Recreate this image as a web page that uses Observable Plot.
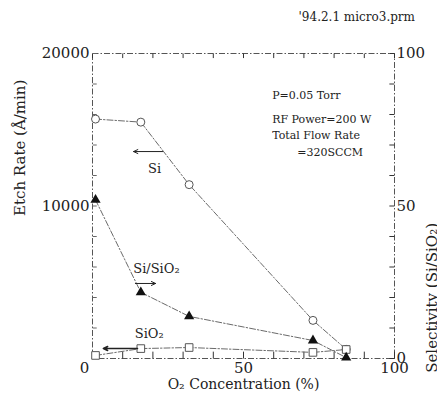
<!DOCTYPE html>
<html>
<head>
<meta charset="utf-8">
<script src="https://cdn.jsdelivr.net/npm/d3@7"></script>
<script src="https://cdn.jsdelivr.net/npm/@observablehq/plot@0.6"></script>
<style>
  html, body { margin: 0; padding: 0; background: #fff; }
  #title { height: 30px; line-height: 34px; font-family: "DejaVu Serif", serif; font-size: 12px; color: #222; text-align: right; padding-right: 22px; box-sizing: border-box; width: 437px; }
  #chart svg { display: block; }
</style>
</head>
<body>
<div id="title">'94.2.1 micro3.prm</div>
<div id="chart"></div>
<script>
// ---- data ----
const oxygen      = [1, 16, 32, 73, 84];               // O2 concentration (%)
const siRate      = [15700, 15500, 11400, 2500, 600];  // Si etch rate (Å/min)
const sio2Rate    = [200, 650, 720, 400, 590];         // SiO2 etch rate (Å/min)
const selectivity = [52, 21.7, 13.8, 5.9, 0.3];        // Si/SiO2

const xTicks   = [0, 10, 20, 30, 40, 50, 60, 70, 80, 90, 100];
const xLabels  = [50, 100];
const xLabelZero = [0];
const yTicks   = [0, 2000, 4000, 6000, 8000, 10000, 12000, 14000, 16000, 18000, 20000];
const yLabels  = [10000, 20000];
const selTicks = [0, 10, 20, 30, 40, 50, 60, 70, 80, 90, 100];
const selLabels = [0, 50, 100];

const conditions = ["P=0.05 Torr", "RF Power=200 W", "Total Flow Rate", "=320SCCM"];
const condX = [59.5, 59.5, 59.5, 67.8];
const condY = [17250, 15680, 14620, 13520];

const seriesNames = ["Si", "Si/SiO₂", "SiO₂"];
const seriesLabelX = [18.4, 13.5, 14.0];
const seriesLabelY = [12450, 5850, 1650];

const arrowX1 = [23.2, 14.2, 14.9];
const arrowX2 = [13.6, 20.9, 3.6];
const arrowY  = [13570, 4920, 660];

// ---- derived tables ----
const selFactor = 20000 / 100;  // right axis 0..100 maps onto left 0..20000
const rows = oxygen.map((o, i) => ({o, si: siRate[i], sio2: sio2Rate[i], sel: selectivity[i]}));
const conds = conditions.map((t, i) => ({t, x: condX[i], y: condY[i]}));
const slabels = seriesNames.map((t, i) => ({t, x: seriesLabelX[i], y: seriesLabelY[i]}));
const arrows = arrowX1.map((x1, i) => ({x1, x2: arrowX2[i], y: arrowY[i], w: i === 2 ? 1.6 : 1}));
// inner tick marks (length given in data units of the crossing scale)
const bottomTicks = xTicks.map(x => ({x, y1: 0, y2: 450}));
const topTicks = xTicks.map(x => ({x, y1: 20000, y2: 19700}));
const leftTicks = yTicks.map(y => ({y, x1: 0, x2: 1.4}));
const rightTicks = selTicks.map(s => ({y: s * selFactor, x1: 100, x2: 98.3}));

const ink = "#222";
const lineInk = "#6a6a6a";
const dashDot = "6,2,1.5,2";
const serif = "DejaVu Serif";

const chart = Plot.plot({
  width: 437,
  height: 369,
  marginTop: 23,
  marginBottom: 41,
  marginLeft: 92,
  marginRight: 43,
  style: {fontFamily: serif, fontSize: "15px", color: ink, background: "#fff"},
  x: {domain: [0, 100]},
  y: {domain: [0, 20000]},
  marks: [
    Plot.frame({stroke: "#555", strokeDasharray: dashDot, strokeWidth: 1}),
    // inner ticks
    Plot.link(bottomTicks, {x1: "x", x2: "x", y1: "y1", y2: "y2", stroke: "#333", strokeWidth: 1}),
    Plot.link(topTicks, {x1: "x", x2: "x", y1: "y1", y2: "y2", stroke: "#333", strokeWidth: 1}),
    Plot.link(leftTicks, {x1: "x1", x2: "x2", y1: "y", y2: "y", stroke: "#666", strokeWidth: 1}),
    Plot.link(rightTicks, {x1: "x1", x2: "x2", y1: "y", y2: "y", stroke: "#333", strokeWidth: 1}),
    // tick labels
    Plot.axisX(xLabels, {anchor: "bottom", tickSize: 0, tickPadding: 4, label: null, fontSize: 15, fontFamily: serif}),
    Plot.axisX(xLabelZero, {anchor: "bottom", tickSize: 0, tickPadding: 4, label: null, fontSize: 15, fontFamily: serif, dx: -8}),
    Plot.axisY(yLabels, {anchor: "left", tickSize: 0, tickPadding: 3, label: null, fontSize: 15, fontFamily: serif, tickFormat: d => String(d)}),
    Plot.axisY(selLabels.map(s => s * selFactor), {anchor: "right", tickSize: 0, tickPadding: 2, label: null, fontSize: 15, fontFamily: serif, tickFormat: d => String(d / selFactor)}),
    // axis titles
    Plot.text(["O₂ Concentration (%)"], {frameAnchor: "bottom", dy: 30, fontSize: 14, fontFamily: serif, fill: ink}),
    Plot.text(["Etch Rate (Å/min)"], {frameAnchor: "left", dx: -72, dy: 10, rotate: -90, fontSize: 15, fontFamily: serif, fill: ink}),
    Plot.text(["Selectivity (Si/SiO₂)"], {frameAnchor: "right", dx: 38, dy: 17, rotate: -90, fontSize: 15, fontFamily: serif, fill: ink}),
    // series lines
    Plot.line(rows, {x: "o", y: "si", stroke: lineInk, strokeDasharray: dashDot, strokeWidth: 1}),
    Plot.line(rows, {x: "o", y: "sio2", stroke: lineInk, strokeDasharray: dashDot, strokeWidth: 1}),
    Plot.line(rows, {x: "o", y: d => d.sel * selFactor, stroke: lineInk, strokeDasharray: dashDot, strokeWidth: 1}),
    // markers
    Plot.dot(rows, {x: "o", y: "si", r: 4, symbol: "circle", stroke: "#555", fill: "white", strokeWidth: 1}),
    Plot.dot(rows, {x: "o", y: "sio2", r: 4.3, symbol: "square", stroke: "#555", fill: "white", strokeWidth: 1}),
    Plot.dot(rows, {x: "o", y: d => d.sel * selFactor, r: 3.8, symbol: "triangle", fill: "#111", stroke: "none"}),
    // arrows
    Plot.arrow(arrows, {x1: "x1", x2: "x2", y1: "y", y2: "y", stroke: ink, strokeWidth: "w", headLength: 7, headAngle: 50}),
    // annotations
    Plot.text(slabels, {x: "x", y: "y", text: "t", textAnchor: "start", fontSize: 13, fontFamily: serif, fill: ink}),
    Plot.text(conds, {x: "x", y: "y", text: "t", textAnchor: "start", fontSize: 11, fontFamily: serif, fill: ink})
  ]
});
document.getElementById("chart").appendChild(chart);
</script>
</body>
</html>
